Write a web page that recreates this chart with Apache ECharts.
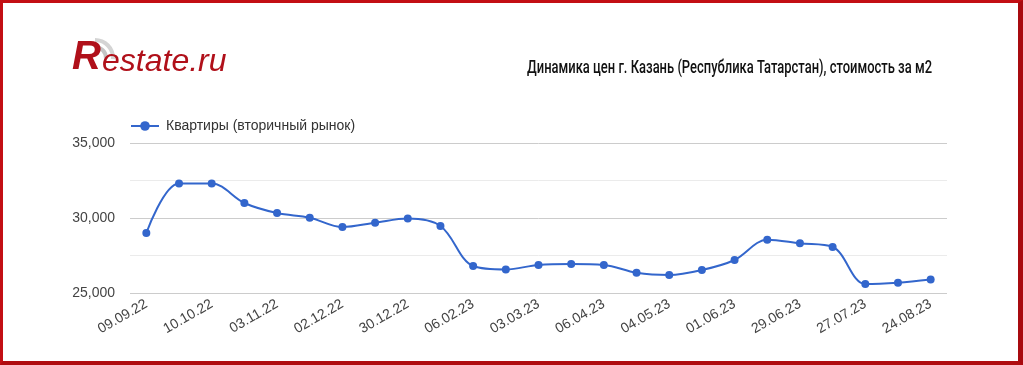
<!DOCTYPE html>
<html><head><meta charset="utf-8">
<script src="https://cdn.jsdelivr.net/npm/echarts@6/dist/echarts.min.js"></script>
<style>
html,body{margin:0;padding:0;background:#fff;}
#frame{position:absolute;left:0;top:0;width:1023px;height:365px;box-sizing:border-box;border-style:solid;border-color:#c30f14 #a80a0f #b00c10 #c30f14;border-width:3px 5px 4px 3px;}
#chart{position:absolute;left:0;top:0;width:1023px;height:365px;}
</style></head>
<body>
<div id="chart"></div>
<div id="frame"></div>
<script>
const categories = ['09.09.22','23.09.22','10.10.22','21.10.22','03.11.22','18.11.22','02.12.22','16.12.22','30.12.22','20.01.23','06.02.23','17.02.23','03.03.23','17.03.23','06.04.23','20.04.23','04.05.23','18.05.23','01.06.23','15.06.23','29.06.23','13.07.23','27.07.23','10.08.23','24.08.23'];
const prices = [29000,32300,32300,31000,30330,30020,29400,29690,29970,29470,26800,26570,26870,26930,26870,26350,26200,26530,27200,28550,28310,28070,25600,25690,25900];
const seriesName = 'Квартиры (вторичный рынок)';
const titleText = 'Динамика цен г. Казань (Республика Татарстан), стоимость за м2';
const yMin = 25000, yMax = 35000, yStep = 2500, yLabelStep = 5000;

const chart = echarts.init(document.getElementById('chart'), null, {renderer:'canvas'});
chart.setOption({
  animation:false,
  backgroundColor:'#fff',
  grid:{left:130, right:76, top:143, bottom:72, containLabel:false},
  legend:{left:130, top:119, padding:0, itemWidth:28, itemHeight:12, itemGap:10,
    textStyle:{fontFamily:'Arial,"Liberation Sans",sans-serif', fontSize:14, color:'#333', padding:[0,0,0,2]},
    data:[seriesName]},
  xAxis:{type:'category', data:categories, boundaryGap:true,
    axisLine:{show:false}, axisTick:{show:false},
    axisLabel:{interval:1, rotate:30, margin:10, fontFamily:'Arial,"Liberation Sans",sans-serif', fontSize:14, color:'#444'}},
  yAxis:{type:'value', min:yMin, max:yMax, interval:yStep,
    axisLine:{show:false}, axisTick:{show:false},
    axisLabel:{margin:15, fontFamily:'Arial,"Liberation Sans",sans-serif', fontSize:14, color:'#444',
      formatter:v => (v % yLabelStep === 0 ? v.toLocaleString('en-US') : '')},
    splitLine:{lineStyle:{color:['#cccccc','#ebebeb'], width:1}}},
  graphic:[
    {type:'sector', shape:{cx:95, cy:58, r:20, r0:16, startAngle:-Math.PI*0.5, endAngle:Math.PI*0.02}, style:{fill:'#d4d4d4'}},
    {type:'sector', shape:{cx:95, cy:58, r:13, r0:9, startAngle:-Math.PI*0.5, endAngle:Math.PI*0.02}, style:{fill:'#c4c4c4'}},
    {type:'text', x:72, y:78, style:{text:'R', font:'italic bold 40px Arial,"Liberation Sans",sans-serif', fill:'#b0101a', verticalAlign:'bottom'}},
    {type:'text', x:102, y:78, style:{text:'estate.ru', font:'italic 32px Arial,"Liberation Sans",sans-serif', fill:'#b0101a', verticalAlign:'bottom'}},
    {type:'text', x:932, y:68, scaleX:0.72, style:{text:titleText, font:'500 18px Roboto,"Liberation Sans",sans-serif', fill:'#111', align:'right', verticalAlign:'middle'}}
  ],
  series:[{name:seriesName, type:'line', data:prices, smooth:0.35,
    symbol:'circle', symbolSize:8, showSymbol:true,
    itemStyle:{color:'#3366cc'}, lineStyle:{color:'#3366cc', width:2}}]
});
</script>
</body></html>
